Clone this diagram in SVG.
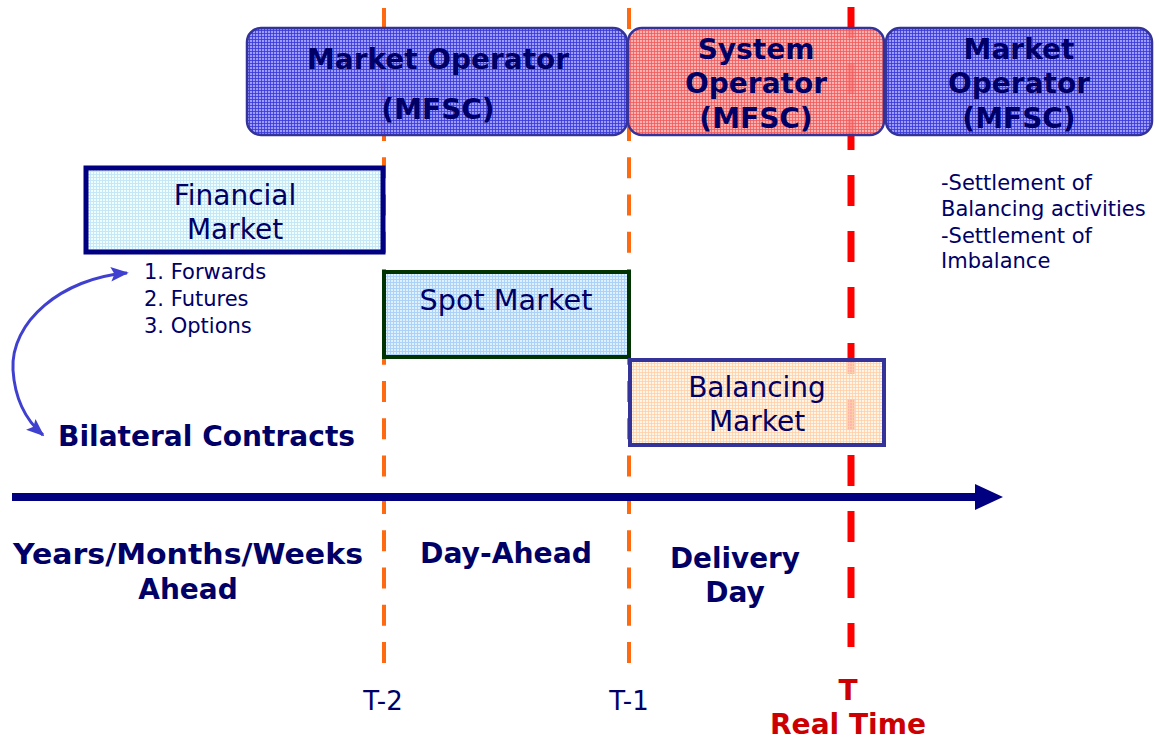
<svg xmlns="http://www.w3.org/2000/svg" width="1159" height="742" viewBox="0 0 1159 742">
  <style>
    .t { font-family: "DejaVu Sans", Verdana, sans-serif; fill: #000066; }
    .b { font-weight: bold; }
    .big { font-size: 28px; }
    .sm { font-size: 21px; }
    .tick { font-size: 26px; }
    .red { fill: #cc0000; }
  </style>
  <defs>
    <pattern id="gBlue" width="3" height="3" patternUnits="userSpaceOnUse">
      <rect width="3" height="3" fill="#8c8cff" fill-opacity="0.85"/>
      <path d="M0 0.5H3M0.5 0V3" stroke="#3a3ad8" stroke-width="1" stroke-opacity="0.85"/>
    </pattern>
    <pattern id="gRed" width="3" height="3" patternUnits="userSpaceOnUse">
      <rect width="3" height="3" fill="#ffa4a4" fill-opacity="0.85"/>
      <path d="M0 0.5H3M0.5 0V3" stroke="#f05a5a" stroke-width="1" stroke-opacity="0.8"/>
    </pattern>
    <pattern id="gCyan" width="3" height="3" patternUnits="userSpaceOnUse">
      <rect width="3" height="3" fill="#eeffff" fill-opacity="0.9"/>
      <path d="M0 0.5H3M0.5 0V3" stroke="#c6e8f6" stroke-width="1"/>
    </pattern>
    <pattern id="gSky" width="3" height="3" patternUnits="userSpaceOnUse">
      <rect width="3" height="3" fill="#dcefff" fill-opacity="0.9"/>
      <path d="M0 0.5H3M0.5 0V3" stroke="#acd2f8" stroke-width="1"/>
    </pattern>
    <pattern id="gPeach" width="3" height="3" patternUnits="userSpaceOnUse">
      <rect width="3" height="3" fill="#fff1e0" fill-opacity="0.75"/>
      <path d="M0 0.5H3M0.5 0V3" stroke="#ffcfa6" stroke-width="1" stroke-opacity="0.8"/>
    </pattern>
    <marker id="curveHead" viewBox="0 0 10 10" refX="9" refY="5" markerWidth="6" markerHeight="6" orient="auto-start-reverse" markerUnits="strokeWidth">
      <path d="M0 1L10 5L0 9L2 5Z" fill="#4040d0"/>
    </marker>
  </defs>

  <rect width="1159" height="742" fill="#ffffff"/>

  <!-- time markers -->
  <g id="markers">
    <line x1="384" y1="8" x2="384" y2="665" stroke="#ff6a10" stroke-width="4" stroke-dasharray="21 16.3"/>
    <line x1="629" y1="8" x2="629" y2="665" stroke="#ff6a10" stroke-width="4" stroke-dasharray="21 16.3"/>
    <line x1="851" y1="7" x2="851" y2="647" stroke="#ff0000" stroke-width="7" stroke-dasharray="31 25"/>
  </g>

  <!-- operators -->
  <g id="market-operator-1">
    <rect x="247" y="28" width="380" height="107" rx="14" fill="url(#gBlue)" stroke="#333399" stroke-width="2.5"/>
    <text class="t b big" x="438" y="69" text-anchor="middle" textLength="262" lengthAdjust="spacingAndGlyphs">Market Operator</text>
    <text class="t b big" x="438" y="119" text-anchor="middle">(MFSC)</text>
  </g>
  <g id="system-operator">
    <rect x="628" y="28" width="256" height="107" rx="14" fill="url(#gRed)" stroke="#333399" stroke-width="2.5"/>
    <text class="t b big" x="756" y="59" text-anchor="middle">System</text>
    <text class="t b big" x="756" y="93" text-anchor="middle">Operator</text>
    <text class="t b big" x="756" y="128" text-anchor="middle">(MFSC)</text>
  </g>
  <g id="market-operator-2">
    <rect x="886" y="28" width="266" height="107" rx="14" fill="url(#gBlue)" stroke="#333399" stroke-width="2.5"/>
    <text class="t b big" x="1019" y="59" text-anchor="middle">Market</text>
    <text class="t b big" x="1019" y="93" text-anchor="middle">Operator</text>
    <text class="t b big" x="1019" y="128" text-anchor="middle">(MFSC)</text>
  </g>

  <g id="settlement-notes">
    <text class="t sm" x="941" y="190">-Settlement of</text>
    <text class="t sm" x="941" y="216">Balancing activities</text>
    <text class="t sm" x="941" y="243">-Settlement of</text>
    <text class="t sm" x="941" y="268">Imbalance</text>
  </g>

  <!-- markets -->
  <g id="financial-market">
    <rect x="86" y="168" width="297" height="84" fill="url(#gCyan)" stroke="#000080" stroke-width="5"/>
    <text class="t big" x="235" y="205" text-anchor="middle">Financial</text>
    <text class="t big" x="235" y="239" text-anchor="middle">Market</text>
  </g>
  <g id="financial-products">
    <text class="t sm" x="144" y="279">1. Forwards</text>
    <text class="t sm" x="144" y="306">2. Futures</text>
    <text class="t sm" x="144" y="333">3. Options</text>
  </g>
  <g id="spot-market">
    <rect x="384" y="272" width="245" height="85" fill="url(#gSky)" stroke="#003300" stroke-width="4"/>
    <text class="t big" x="506" y="310" text-anchor="middle" textLength="173" lengthAdjust="spacingAndGlyphs">Spot Market</text>
  </g>
  <g id="balancing-market">
    <rect x="630" y="360" width="254" height="85" fill="url(#gPeach)" stroke="#333399" stroke-width="4"/>
    <text class="t big" x="757" y="397" text-anchor="middle">Balancing</text>
    <text class="t big" x="757" y="431" text-anchor="middle">Market</text>
  </g>
  <g id="bilateral-contracts">
    <text class="t b big" x="58" y="446" textLength="297" lengthAdjust="spacingAndGlyphs">Bilateral Contracts</text>
  </g>

  <!-- connectors -->
  <g id="connectors">
    <path d="M127 273C62 278 10 322 13 370C15 402 28 422 43 435" fill="none" stroke="#4040d0" stroke-width="3" marker-start="url(#curveHead)" marker-end="url(#curveHead)"/>
    <line x1="12" y1="497" x2="978" y2="497" stroke="#000080" stroke-width="8"/>
    <path d="M975 484L1003 497L975 510Z" fill="#000080"/>
  </g>

  <!-- timeline labels -->
  <g id="timeline-labels">
    <text class="t b big" x="188" y="564" text-anchor="middle" textLength="350" lengthAdjust="spacingAndGlyphs">Years/Months/Weeks</text>
    <text class="t b big" x="188" y="599" text-anchor="middle">Ahead</text>
    <text class="t b big" x="506" y="563" text-anchor="middle" textLength="172" lengthAdjust="spacingAndGlyphs">Day-Ahead</text>
    <text class="t b big" x="735" y="568" text-anchor="middle" textLength="130" lengthAdjust="spacingAndGlyphs">Delivery</text>
    <text class="t b big" x="735" y="602" text-anchor="middle">Day</text>
    <text class="t tick" x="383" y="710" text-anchor="middle">T-2</text>
    <text class="t tick" x="629" y="710" text-anchor="middle">T-1</text>
    <text class="t b big red" x="848" y="700" text-anchor="middle">T</text>
    <text class="t b big red" x="848" y="734" text-anchor="middle" textLength="156" lengthAdjust="spacingAndGlyphs">Real Time</text>
  </g>
</svg>
